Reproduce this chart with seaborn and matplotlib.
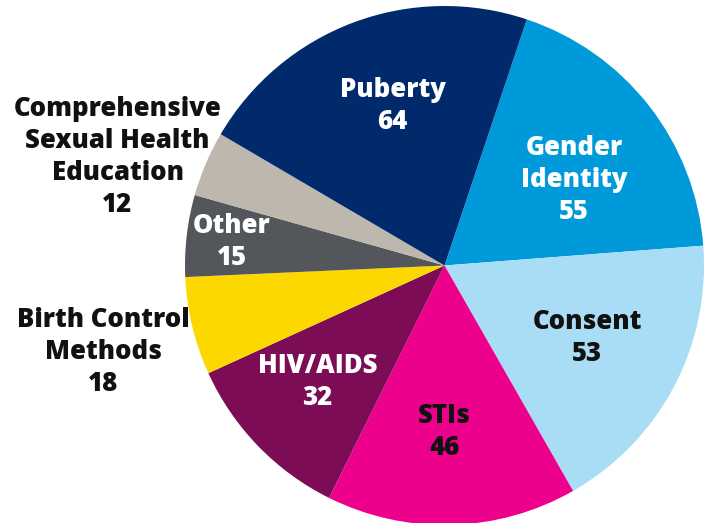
import matplotlib.pyplot as plt
import seaborn as sns

# data (clockwise from the Puberty / Gender Identity boundary)
topics = ["Gender\nIdentity", "Consent", "STIs", "HIV/AIDS", "Birth Control\nMethods",
          "Other", "Comprehensive\nSexual Health\nEducation", "Puberty"]
counts = [55, 53, 46, 32, 18, 15, 12, 64]
colors = ["#009ADB", "#A8DDF5", "#EC008C", "#7B0C55", "#FCD800",
          "#53565A", "#BDB7AD", "#002A6C"]
text_colors = ["white", "#111111", "#111111", "white", "#111111",
               "white", "#111111", "white"]
# label centres in pie units (radius = 1)
label_pos = [(0.50, 0.33), (0.55, -0.28), (0.0, -0.64), (-0.49, -0.45),
             (-1.315, -0.335), (-0.82, 0.09), (-1.26, 0.42), (-0.20, 0.615)]

sns.set_theme(style="white")
plt.rcParams['font.family'] = ['Open Sans', 'DejaVu Sans']

fig = plt.figure(figsize=(7.14, 5.23), dpi=100)
ax = fig.add_axes([185 / 714, -2 / 523, 519 / 714, 519 / 523])

ax.pie(counts, colors=colors, startangle=71.5, counterclock=False,
       radius=1, wedgeprops=dict(linewidth=0))

for name, n, (x, y), tc in zip(topics, counts, label_pos, text_colors):
    ax.text(x, y, f"{name}\n{n}", ha="center", va="center", color=tc,
            fontsize=18.5, fontweight=800, linespacing=1.3)

ax.set_xlim(-1, 1)
ax.set_ylim(-1, 1)
ax.set_aspect("equal")
ax.axis("off")

fig.savefig("out.png", dpi=100)
